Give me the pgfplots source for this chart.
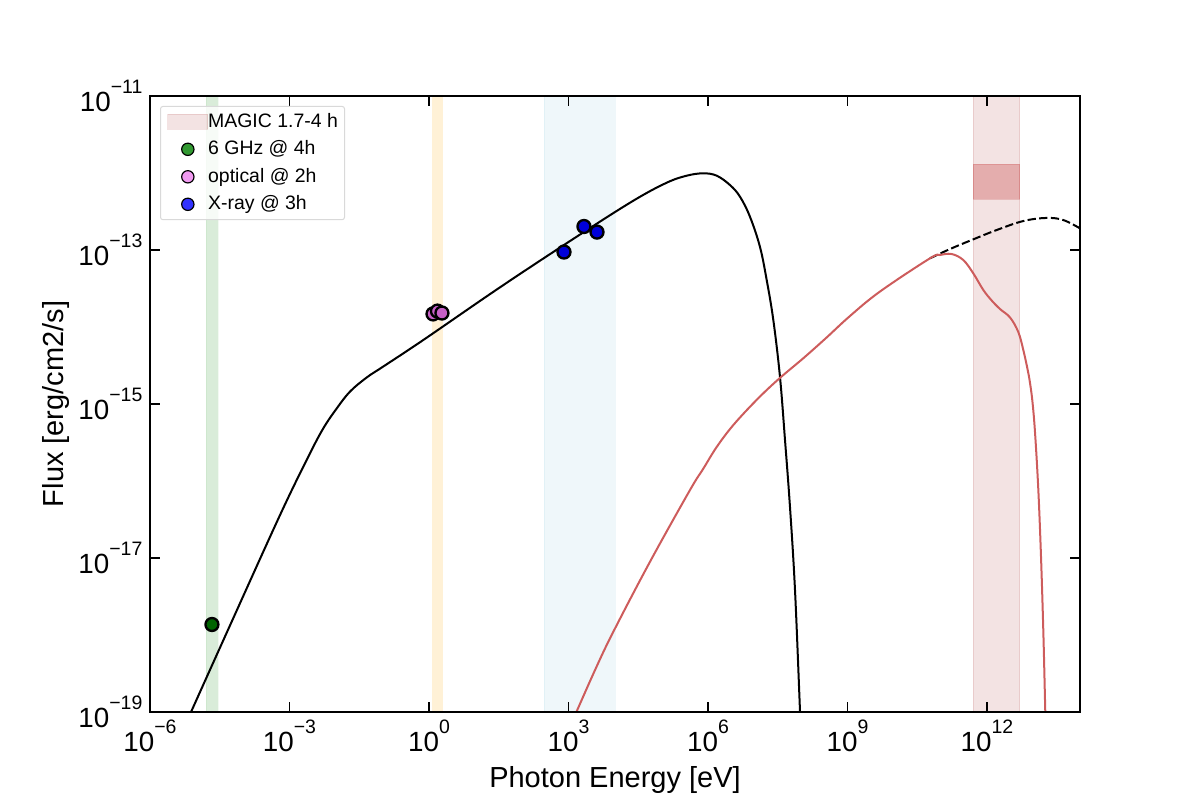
\documentclass[border=0pt]{standalone}
\usepackage{fontspec}
\setmainfont{Liberation Sans}
\usepackage{pgfplots}
\pgfplotsset{compat=1.18}

\definecolor{indianred}{HTML}{CD5C5C}
\definecolor{brownband}{HTML}{A52A2A}
\definecolor{lightblue}{HTML}{ADD8E6}
\definecolor{bandorange}{HTML}{FFA500}
\definecolor{ptgreen}{HTML}{006400}
\definecolor{ptpink}{HTML}{C860C8}
\definecolor{ptblue}{HTML}{0000D8}
\definecolor{leggreen}{HTML}{008000}
\definecolor{legpink}{HTML}{EE82EE}
\definecolor{legblue}{HTML}{0000FF}

% tick label: 10 with a raised exponent, in the text font
\newcommand{\pw}[1]{10\raisebox{10.5pt}{\fontsize{11.67}{12}\selectfont #1}}

\begin{document}
\begin{tikzpicture}
\useasboundingbox (-90pt,-52.8pt) rectangle (630pt,427.2pt);
\begin{axis}[
    at={(0,0)}, anchor=south west,
    scale only axis,
    width=558pt, height=369.6pt,
    xmode=log, ymode=log,
    xmin=1e-6, xmax=1e14,
    ymin=1e-19, ymax=1e-11,
    xtick={1e-6,1e-3,1e0,1e3,1e6,1e9,1e12},
    xticklabels={\pw{−6},\pw{−3},\pw{0},\pw{3},\pw{6},\pw{9},\pw{12}},
    ytick={1e-19,1e-17,1e-15,1e-13,1e-11},
    yticklabels={\pw{−19},\pw{−17},\pw{−15},\pw{−13},\pw{−11}},
    xminorticks=false, yminorticks=false,
    tick align=inside,
    major tick length=6pt,
    tick style={black, line width=1.1pt},
    axis line style={line width=1.1pt},
    axis on top,
    every x tick label/.append style={font=\fontsize{16.67}{18}\selectfont, inner sep=0pt, yshift=-4.6pt, anchor=north},
    every y tick label/.append style={font=\fontsize{16.67}{18}\selectfont, inner sep=0pt, xshift=-4.4pt, anchor=east},
    xlabel={Photon Energy [eV]},
    ylabel={Flux [erg/cm2/s]},
    every axis x label/.style={at={(axis description cs:0.5,0)}, anchor=base, yshift=-45pt, font=\fontsize{17.4}{18}\selectfont},
    every axis y label/.style={at={(axis description cs:-0.0932,0.5)}, anchor=base, rotate=90, font=\fontsize{17.4}{18}\selectfont},
    legend cell align=left,
    legend style={
        at={(axis description cs:0.01075,0.984)}, anchor=north west,
        font=\fontsize{11.67}{13}\selectfont,
        draw=black!15, line width=0.6pt, rounded corners=1.5pt,
        fill=white, fill opacity=0.8, text opacity=1,
        inner xsep=4pt, inner ysep=3.5pt,
        row sep=5pt,
        nodes={inner sep=0pt, text height=9pt, text depth=2.5pt},
    },
]
% legend entries
\addlegendimage{legend image code/.code={\fill[brownband, opacity=0.13, sharp corners] (-0.1pt,-4.5pt) rectangle (23.9pt,4.5pt);}}
\addlegendentry{MAGIC 1.7-4 h}
\addlegendimage{legend image code/.code={\draw[black, line width=0.7pt, fill=leggreen, fill opacity=0.8] (12pt,0pt) circle (3.7pt);}}
\addlegendentry{6 GHz @ 4h}
\addlegendimage{legend image code/.code={\draw[black, line width=0.7pt, fill=legpink] (12pt,0pt) circle (3.7pt);}}
\addlegendentry{optical @ 2h}
\addlegendimage{legend image code/.code={\draw[black, line width=0.7pt, fill=legblue, fill opacity=0.8] (12pt,0pt) circle (3.7pt);}}
\addlegendentry{X-ray @ 3h}

% observing bands
\addplot[forget plot, fill=leggreen, fill opacity=0.15, draw=leggreen, draw opacity=0.05] coordinates {(1.60e-5,1e-19) (2.90e-5,1e-19) (2.90e-5,1e-11) (1.60e-5,1e-11)} --cycle;
\addplot[forget plot, fill=bandorange, fill opacity=0.16, draw=none] coordinates {(1.16,1e-19) (2.0,1e-19) (2.0,1e-11) (1.16,1e-11)} --cycle;
\addplot[forget plot, fill=lightblue, fill opacity=0.2, draw=lightblue, draw opacity=0.2] coordinates {(297,1e-19) (1e4,1e-19) (1e4,1e-11) (297,1e-11)} --cycle;
\addplot[forget plot, fill=brownband, fill opacity=0.13, draw=brownband, draw opacity=0.13] coordinates {(5.0e11,1e-19) (5e12,1e-19) (5e12,1e-11) (5.0e11,1e-11)} --cycle;
\addplot[forget plot, fill=indianred, fill opacity=0.4, draw=indianred, draw opacity=0.3] coordinates {(5.0e11,4.59e-13) (5e12,4.59e-13) (5e12,1.31e-12) (5.0e11,1.31e-12)} --cycle;

% synchrotron
\addplot[forget plot, black, line width=1.2pt, smooth, tension=0.6] coordinates {
(6.10e-6,7.41e-20) (4.83e-5,1.19e-18) (6.25e-4,3.61e-17) (2.54e-3,2.07e-16) (5.33e-3,4.83e-16)
(1.04e-2,8.79e-16) (2.00e-2,1.45e-15) (4.57e-2,2.21e-15) (1.04e-1,3.07e-15) (0.753,6.78e-15)
(33.7,3.28e-14) (1500,1.49e-13) (2.48e4,4.37e-13)
(1.29e5,7.48e-13) (3.48e5,9.23e-13) (7.92e5,9.91e-13) (1.54e6,9.23e-13) (2.97e6,6.98e-13)
(4.88e6,4.92e-13) (8.00e6,2.70e-13) (1.31e7,1.10e-13) (1.83e7,4.07e-14) (2.54e7,1.23e-14)
(3.53e7,2.26e-15) (4.53e7,3.40e-16) (5.79e7,4.63e-17) (7.43e7,3.84e-18) (9.51e7,1.04e-19)
(9.75e7,7.41e-20)
};

% SSC without absorption
\addplot[forget plot, black, line width=1.2pt, dashed, dash pattern=on 5pt off 2pt, smooth, tension=0.6] coordinates {
(5.94e10,7.80e-14) (1.60e11,1.03e-13) (4.69e11,1.35e-13) (1.62e12,1.82e-13) (6.04e12,2.38e-13)
(1.92e13,2.61e-13) (4.38e13,2.45e-13) (1e14,1.91e-13)
};

% SSC absorbed
\addplot[forget plot, indianred, line width=1.2pt, smooth, tension=0.6] coordinates {
(1190,7.41e-20) (3720,3.51e-19) (9190,1.10e-18)
(5.66e4,8.95e-18) (4.10e5,7.64e-17) (7.94e5,1.45e-16) (1.54e6,2.77e-16) (3.50e6,5.33e-16)
(1.11e7,1.13e-15) (3.25e7,2.09e-15) (1.12e8,3.93e-15) (3.45e8,7.19e-15) (1.13e9,1.39e-14) (5.00e9,2.89e-14)
(5.94e10,7.80e-14) (9.75e10,8.61e-14) (1.74e11,8.87e-14) (3.09e11,7.41e-14) (5.07e11,4.98e-14)
(8.32e11,3.03e-14) (1.26e12,2.21e-14) (1.91e12,1.71e-14) (3.13e12,1.33e-14) (4.71e12,8.61e-15) (6.04e12,5.02e-15)
(7.50e12,2.77e-15) (8.41e12,1.88e-15) (9.51e12,1.06e-15) (1.08e13,4.20e-16) (1.27e13,7.64e-17) (1.45e13,1.04e-17) (1.63e13,1.06e-18)
(1.79e13,1.04e-19) (1.82e13,7.41e-20)
};

% data points
\addplot[forget plot, only marks, mark=*, mark size=3.9pt, mark options={draw=black, line width=1.4pt, fill=ptgreen}] coordinates {(2.15e-5,1.37e-18)};
\addplot[forget plot, only marks, mark=*, mark size=3.9pt, mark options={draw=black, line width=1.4pt, fill=ptpink}] coordinates {(1.22,1.48e-14) (1.52,1.61e-14) (1.90,1.52e-14)};
\addplot[forget plot, only marks, mark=*, mark size=3.9pt, mark options={draw=black, line width=1.4pt, fill=ptblue}] coordinates {(800,9.42e-14) (2150,2.02e-13) (4100,1.71e-13)};
\end{axis}
\end{tikzpicture}
\end{document}
